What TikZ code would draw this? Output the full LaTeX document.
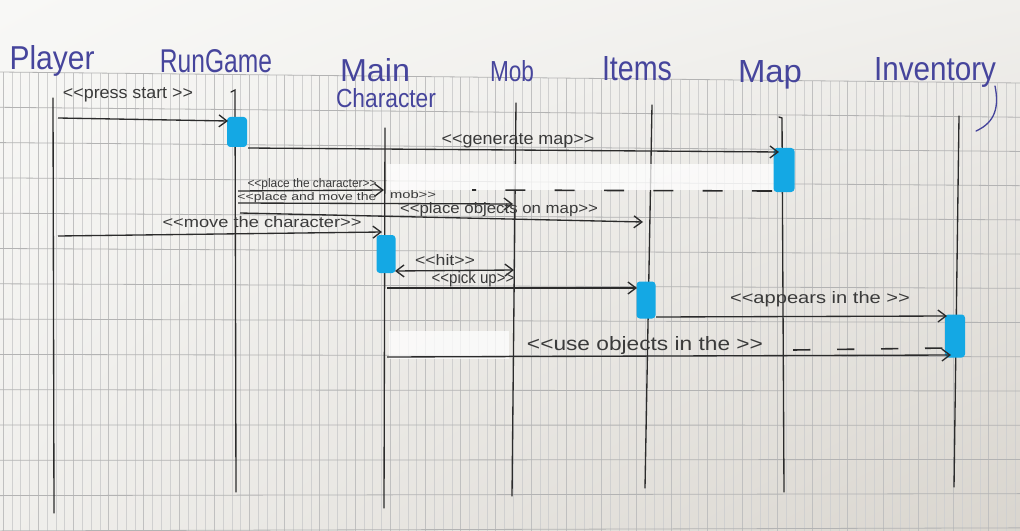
\documentclass[tikz,border=0pt]{standalone}
\usepackage{fontspec}
\usepackage{graphicx}
\newfontfamily\handfont{Liberation Sans}
\usetikzlibrary{arrows.meta,shadings}

% one drawing unit = one pixel of the sheet
\newdimen\pxu \pxu=0.75pt
% handwriting-sized text: given width and height (above the baseline) in pixels
\newcommand{\fitwh}[3]{\resizebox{#1\pxu}{#2\pxu}{\handfont #3}}

\definecolor{paperA}{HTML}{F8F8F6}
\definecolor{paperB}{HTML}{F0EFEC}
\definecolor{paperC}{HTML}{D9D5CE}
\definecolor{gridthin}{HTML}{D0D0D0}
\definecolor{gridmid}{HTML}{C0C0C0}
\definecolor{gridthick}{HTML}{B3B3B3}
\definecolor{ink}{HTML}{2B2B2B}
\definecolor{labelink}{HTML}{3A3A3A}
\definecolor{blueink}{HTML}{46459C}
\definecolor{marker}{HTML}{14A8E4}

\tikzset{
  lifeline/.style={draw=ink, line width=1pt, line cap=round},
  msg/.style={draw=ink, line width=1pt, -{Straight Barb[length=6pt,width=9pt]}},
  twoway/.style={draw=ink, line width=1pt, {Straight Barb[length=6pt,width=9pt]}-{Straight Barb[length=6pt,width=9pt]}},
  dashret/.style={draw=ink, line width=1.2pt},
  title/.style={text=blueink, inner sep=0pt, anchor=base},
  lbl/.style={text=labelink, inner sep=0pt, anchor=base},
  act/.style={fill=marker, draw=none, rounded corners=2.5pt, inner sep=0pt},
  whiteout/.style={fill=white, fill opacity=0.75, draw=none},
}

\begin{document}
\begin{tikzpicture}[x=0.75pt, y=-0.75pt]
\useasboundingbox (0,0) rectangle (1020,531);

% paper
\shade[upper left=paperA, upper right=paperB, lower left=paperB, lower right=paperC]
  (0,0) rectangle (1020,531);

% squared ruling: dense thin verticals, a stronger one every fourth
\foreach \i in {0,...,115} {
  \pgfmathsetmacro{\gx}{3+8.8*\i}
  \pgfmathsetmacro{\gt}{72+11*\gx/1020}
  \pgfmathtruncatemacro{\gm}{mod(\i,4)}
  \ifnum\gm=0
    \draw[gridmid, line width=0.55pt] (\gx,\gt) -- (\gx,531);
  \else
    \draw[gridthin, line width=0.4pt] (\gx,\gt) -- (\gx,531);
  \fi
}
\foreach \k in {0,...,13} {
  \pgfmathsetmacro{\yl}{72+35.3*\k}
  \pgfmathsetmacro{\yr}{\yl+11-1.08*\k}
  \draw[gridthick, line width=0.6pt] (0,\yl) -- (1020,\yr);
}

% lifeline ends
\coordinate (plT) at (53,98);   \coordinate (plB) at (54,513);
\coordinate (rgH) at (231,92);  \coordinate (rgT) at (235,90);  \coordinate (rgB) at (236,492);
\coordinate (mcT) at (385,128); \coordinate (mcB) at (384,508);
\coordinate (mbT) at (516,103); \coordinate (mbB) at (512,496);
\coordinate (itT) at (652,105); \coordinate (itB) at (645,488);
\coordinate (mpH) at (779,117); \coordinate (mpT) at (782,118); \coordinate (mpB) at (784,492);
\coordinate (ivT) at (959,116); \coordinate (ivB) at (954,487);

\draw[lifeline] (plT) -- (plB);
\draw[lifeline] (rgH) -- (rgT) -- (rgB);
\draw[lifeline] (mcT) -- (mcB);
\draw[lifeline] (mbT) -- (mbB);
\draw[lifeline] (itT) -- (itB);
\draw[lifeline] (mpH) -- (mpT) -- (mpB);
\draw[lifeline] (ivT) -- (ivB);

% correction fluid patches
\fill[whiteout] (387,164) rectangle (774,190);
\fill[whiteout] (389,331) rectangle (509,359);

% activation bars
\node[act, minimum width=20\pxu, minimum height=30\pxu] (actRG) at (237,132) {};
\node[act, minimum width=21\pxu, minimum height=44\pxu] (actMP) at (784,170) {};
\node[act, minimum width=19\pxu, minimum height=38\pxu] (actMC) at (386,254) {};
\node[act, minimum width=19\pxu, minimum height=37\pxu] (actIT) at (646,300) {};
\node[act, minimum width=20\pxu, minimum height=43\pxu] (actIV) at (955,336) {};

% message end points
\coordinate (m1s) at (58,118);  \coordinate (m1e) at (228,121);
\coordinate (m2s) at (248,148); \coordinate (m2e) at (779,152);
\coordinate (m3s) at (238,191); \coordinate (m3e) at (384,190);
\coordinate (m4s) at (238,203); \coordinate (m4e) at (513,204);
\coordinate (m5s) at (240,213); \coordinate (m5e) at (643,222);
\coordinate (m6s) at (58,236);  \coordinate (m6e) at (382,232);
\coordinate (m7s) at (395,271); \coordinate (m7e) at (514,270);
\coordinate (m8s) at (387,288); \coordinate (m8e) at (637,288);
\coordinate (m9s) at (656,317); \coordinate (m9e) at (947,316);
\coordinate (m10s) at (387,357); \coordinate (m10e) at (951,355);
\coordinate (d1s) at (772,191); \coordinate (d1e) at (472,190);
\coordinate (d2s) at (793,350); \coordinate (d2e) at (946,348);

% messages
\draw[msg] (m1s) -- (m1e);
\draw[msg] (m2s) -- (m2e);
\draw[msg] (m3s) -- (m3e);
\draw[msg] (m4s) -- (m4e);
\draw[msg] (m5s) -- (m5e);
\draw[msg] (m6s) -- (m6e);
\draw[twoway] (m7s) -- (m7e);
\draw[msg] (m8s) -- (m8e);
\draw[msg] (m9s) -- (m9e);
\draw[msg] (m10s) -- (m10e);
\draw[dashret, dash pattern=on 15pt off 22pt] (d1s) -- (d1e);
\draw[dashret, dash pattern=on 13pt off 20pt] (d2s) -- (d2e);

% message labels
\node[lbl] (l1) at (128,99)  {\fitwh{130}{11}{<<press start >>}};
\node[lbl] (l2) at (518,144) {\fitwh{153}{11}{<<generate map>>}};
\node[lbl] (l3) at (312,187) {\fitwh{129}{9}{<<place the character>>}};
\node[lbl] (l4) at (307,200) {\fitwh{139}{8}{<<place and move the}};
\node[lbl] (l4b) at (413,199) {\fitwh{46}{8}{mob>>}};
\node[lbl] (l5) at (499,213) {\fitwh{198}{11}{<<place objects on map>>}};
\node[lbl] (l6) at (262,227) {\fitwh{199}{11}{<<move the character>>}};
\node[lbl] (l7) at (445,265) {\fitwh{60}{11}{<<hit>>}};
\node[lbl] (l8) at (473,283) {\fitwh{83}{12}{<<pick up>>}};
\node[lbl] (l9) at (820,303) {\fitwh{180}{12}{<<appears in the >>}};
\node[lbl] (l10) at (645,350) {\fitwh{236}{14}{<<use objects in the >>}};

% lifeline titles
\node[title] (tPL) at (52,70)  {\fitwh{85}{24}{Player}};
\node[title] (tRG) at (216,73) {\fitwh{112}{23}{RunGame}};
\node[title] (tMC1) at (375,82) {\fitwh{70}{23}{Main}};
\node[title] (tMC2) at (386,108) {\fitwh{100}{19}{Character}};
\node[title] (tMB) at (512,82) {\fitwh{44}{21}{Mob}};
\node[title] (tIT) at (637,81) {\fitwh{70}{24}{Items}};
\node[title] (tMP) at (770,83) {\fitwh{64}{22}{Map}};
\node[title] (tIV) at (935,81) {\fitwh{122}{23}{Inventory}};
% long tail of the final y
\draw[blueink, line width=1pt, line cap=round]
  (995,86) .. controls (999,106) and (996,122) .. (976,131);

\end{tikzpicture}
\end{document}
